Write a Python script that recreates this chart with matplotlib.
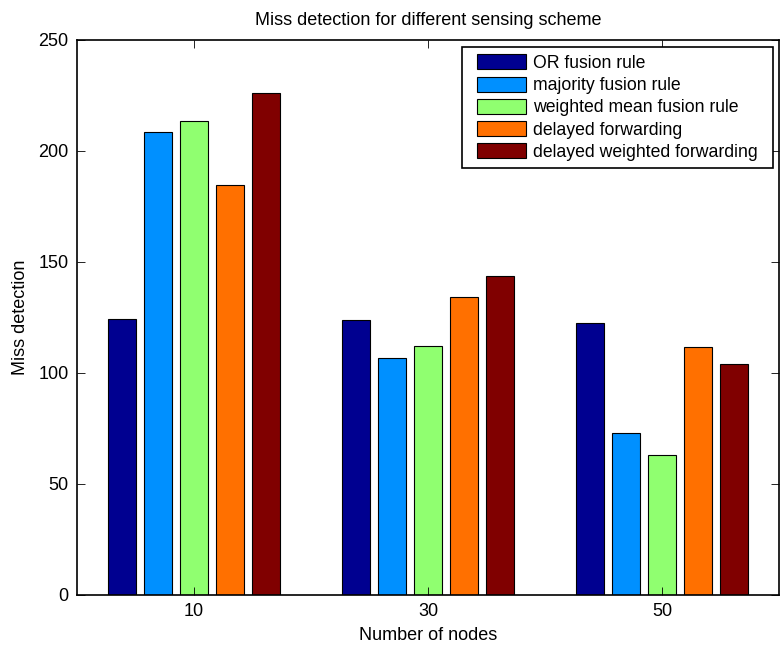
import numpy as np
import matplotlib.pyplot as plt

plt.rcParams['font.family'] = ['Liberation Sans', 'DejaVu Sans']

nodes = ['10', '30', '50']
series = ['OR fusion rule', 'majority fusion rule', 'weighted mean fusion rule',
          'delayed forwarding', 'delayed weighted forwarding']
or_rule = [124.4, 123.8, 122.5]
majority = [208.5, 106.9, 72.8]
weighted_mean = [213.3, 112.2, 63.1]
delayed = [184.5, 134.4, 111.6]
delayed_weighted = [226.0, 143.9, 104.2]
values = [or_rule, majority, weighted_mean, delayed, delayed_weighted]

# jet colormap picks, as MATLAB grouped bars use
colors = ['#000090', '#0090ff', '#90ff70', '#ff7000', '#800000']

fig = plt.figure(figsize=(7.83, 6.48), dpi=100)
ax = fig.add_axes([0.0983, 0.0818, 0.8966, 0.8565])

x = np.arange(1, len(nodes) + 1)
nb = len(series)
groupwidth = min(0.8, nb / (nb + 1.5))
slot = groupwidth / nb
for i, (name, vals, c) in enumerate(zip(series, values, colors)):
    off = -groupwidth / 2 + (2 * i + 1) * slot / 2
    ax.bar(x + off, vals, width=slot * 0.8, color=c, edgecolor='black',
           linewidth=0.8, label=name)

ax.set_xlim(0.5, 3.5)
ax.set_ylim(0, 250)
ax.set_xticks(x)
ax.set_xticklabels(nodes)
ax.set_yticks(np.arange(0, 251, 50))
ax.tick_params(direction='in', top=True, right=True, labelsize=13,
               length=6, width=0.6, pad=6)
for s in ax.spines.values():
    s.set_linewidth(1.2)

ax.set_xlabel('Number of nodes', fontsize=13, labelpad=5)
ax.set_ylabel('Miss detection', fontsize=13, labelpad=7)
ax.set_title('Miss detection for different sensing scheme', fontsize=13, pad=11)

leg = ax.legend(loc='upper right', bbox_to_anchor=(0.980, 0.987),
                fontsize=12.7, fancybox=False, framealpha=1,
                edgecolor='black', handlelength=2.8, handleheight=0.95,
                handletextpad=0.4, labelspacing=0.26, borderpad=0.4,
                borderaxespad=0)
frame = leg.get_frame()
frame.set_linewidth(1.2)
# extra padding on the sides only
frame.set_boxstyle('square', pad=0.45)
frame.set_mutation_aspect(0.01)

fig.savefig('out.png', dpi=100)
